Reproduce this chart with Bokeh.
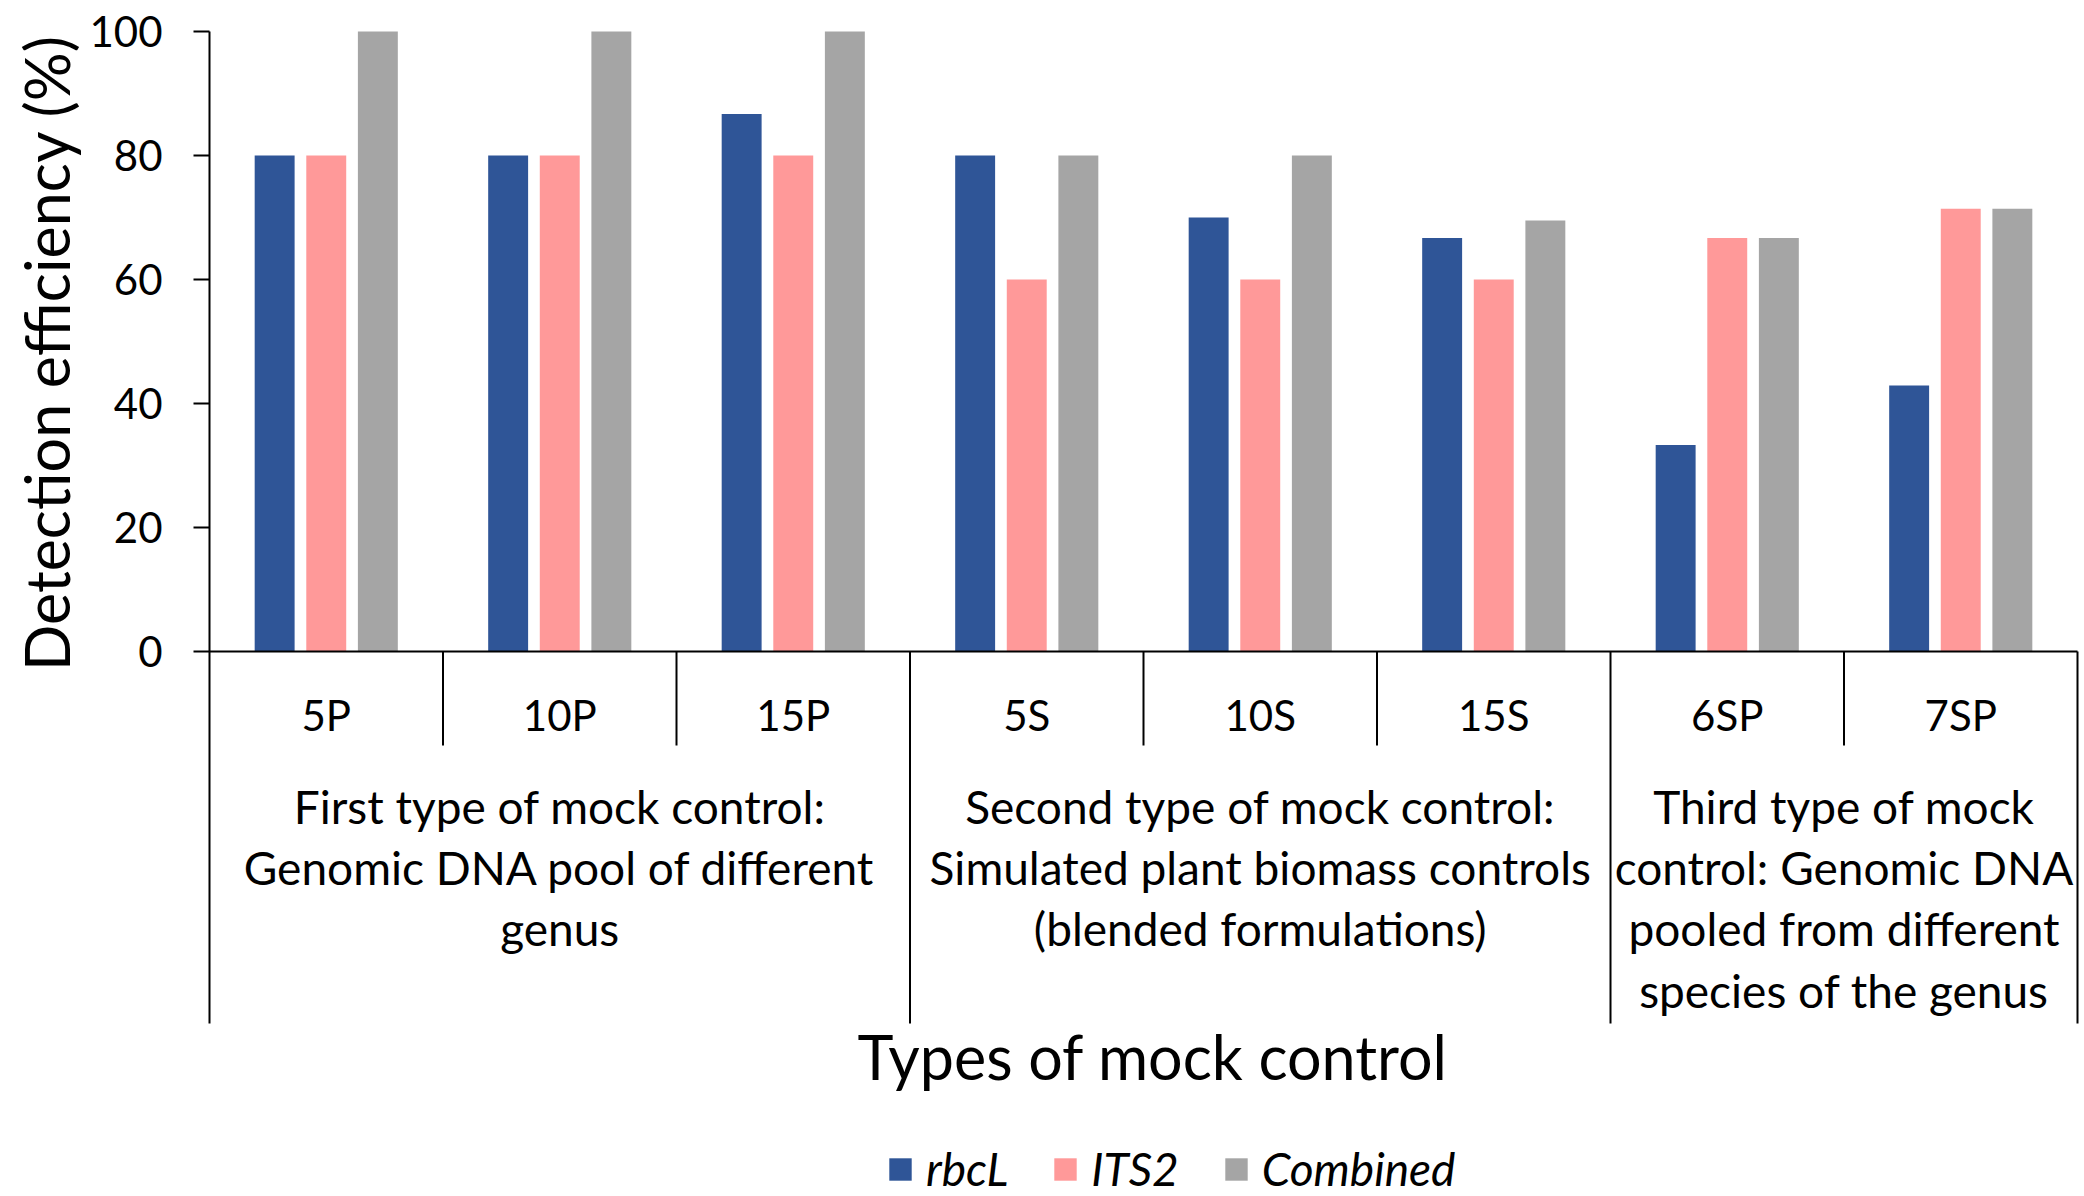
import numpy as np
from bokeh.plotting import figure
from bokeh.models import (Range1d, LinearAxis, FixedTicker, Legend, LegendItem,
                          Title, ColumnDataSource)
from bokeh.core.properties import value
from bokeh.embed import file_html
from bokeh.resources import INLINE

# ---------------- data ----------------
categories = ["5P", "10P", "15P", "5S", "10S", "15S", "6SP", "7SP"]
rbcL = [80, 80, 86.7, 80, 70, 66.7, 33.3, 42.9]
its2 = [80, 80, 80, 60, 60, 60, 66.7, 71.4]
combined = [100, 100, 100, 80, 80, 69.5, 66.7, 71.4]
series_names = ["rbcL", "ITS2", "Combined"]
group_sizes = [3, 3, 2]
group_labels = [
    ["First type of mock control:", "Genomic DNA pool of different", "genus"],
    ["Second type of mock control:", "Simulated plant biomass controls", "(blended formulations)"],
    ["Third type of mock", "control: Genomic DNA", "pooled from different", "species of the genus"],
]
y_ticks = [0, 20, 40, 60, 80, 100]
x_title = "Types of mock control"
y_title = "Detection efficiency (%)"
colors = ["#2F5597", "#FF9999", "#A5A5A5"]

# ---------------- layout ----------------
W, H = 2084, 1196
LEFT = 209        # px of x = 0
TOP_PX = 31       # px of y = 100
PPU = 6.2         # px per y unit
CAT_W = 233.5     # px per category
FONT = "Lato"


def yd(py):
    """pixel row -> y data value"""
    return 100 - (py - TOP_PX) / PPU


n = len(categories)
x_end = (W - LEFT) / CAT_W
y_hi = 100 + TOP_PX / PPU
y_lo = 100 - (H - TOP_PX) / PPU

p = figure(width=W, height=H, x_range=Range1d(0, x_end), y_range=Range1d(y_lo, y_hi),
           output_backend="svg", toolbar_location=None,
           x_axis_location=None, y_axis_location=None,
           min_border_left=LEFT, min_border_right=0, min_border_top=0, min_border_bottom=0)
p.outline_line_color = None
p.grid.visible = False
p.background_fill_color = "white"
p.border_fill_color = "white"

yaxis = LinearAxis(bounds=(yd(1023), 100), ticker=FixedTicker(ticks=y_ticks))
yaxis.major_label_text_font = FONT
yaxis.major_label_text_font_size = "42px"
yaxis.major_label_text_color = "black"
yaxis.major_tick_out = 16
yaxis.major_tick_in = 0
yaxis.minor_tick_out = 0
yaxis.minor_tick_in = 0
yaxis.axis_line_width = 2
yaxis.axis_line_color = "black"
yaxis.major_tick_line_width = 2
yaxis.major_tick_line_color = "black"
yaxis.major_label_standoff = 31
p.add_layout(yaxis, "left")

ytitle = Title(text=y_title, align="right", offset=34, vertical_align="middle", standoff=6,
               text_font=FONT, text_font_size="61px", text_font_style="normal",
               text_color="black")
p.add_layout(ytitle, "left")

# bars
centers = np.arange(n) + 0.5
offsets = [-0.221, 0.0, 0.221]
bar_w = 0.171
renderers = []
for vals, off, col in zip([rbcL, its2, combined], offsets, colors):
    src = ColumnDataSource(dict(x=centers + off, top=vals))
    r = p.vbar(x="x", top="top", bottom=0, width=bar_w, source=src,
               fill_color=col, line_color=None)
    renderers.append(r)

# horizontal axis line
p.segment(x0=[0], y0=[0], x1=[n], y1=[0], line_color="black", line_width=2)

# separators
bounds = np.concatenate([[0], np.cumsum(group_sizes)])
long_x = [b for b in bounds[1:]]
short_x = [i for i in range(1, n) if i not in bounds]
p.segment(x0=long_x, y0=[0] * len(long_x), x1=long_x, y1=[yd(1023)] * len(long_x),
          line_color="black", line_width=2)
p.segment(x0=short_x, y0=[0] * len(short_x), x1=short_x, y1=[yd(745)] * len(short_x),
          line_color="black", line_width=2)

# category labels
p.text(x=centers, y=[yd(714)] * n, text=categories, text_align="center",
       text_baseline="middle", text_font=value(FONT), text_font_size=value("42px"),
       text_color="black")

# group labels
gx, gy, gt = [], [], []
for gi, lines in enumerate(group_labels):
    cx = (bounds[gi] + bounds[gi + 1]) / 2
    for k, line in enumerate(lines):
        gx.append(cx)
        gy.append(yd(806 + 61.2 * k))
        gt.append(line)
p.text(x=gx, y=gy, text=gt, text_align="center", text_baseline="middle",
       text_font=value(FONT), text_font_size=value("46px"), text_color="black")

# x title
p.text(x=[n / 2 + 0.04], y=[yd(1056)], text=[x_title], text_align="center",
       text_baseline="middle", text_font=value(FONT), text_font_size=value("61px"),
       text_color="black")

# legend
legend = Legend(items=[LegendItem(label=value(nm), renderers=[r])
                       for nm, r in zip(series_names, renderers)],
                orientation="horizontal", location=(677, 0), padding=0, margin=0,
                border_line_color=None, background_fill_alpha=0,
                glyph_width=28, glyph_height=28, label_standoff=12, spacing=43,
                label_text_font=FONT, label_text_font_size="46px",
                label_text_font_style="italic", label_text_color="black")
p.add_layout(legend)

open("out.html", "w").write(file_html(p, INLINE))
